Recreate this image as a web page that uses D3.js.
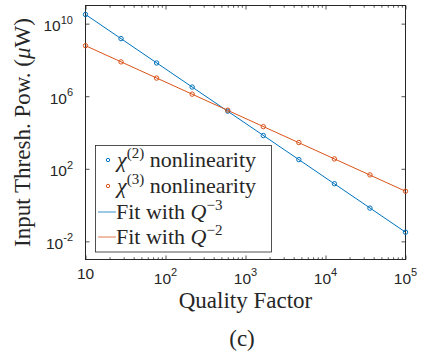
<!DOCTYPE html>
<html>
<head>
<meta charset="utf-8">
<script src="https://cdn.jsdelivr.net/npm/d3@7/dist/d3.min.js"></script>
<style>
  body { margin: 0; background: #fff; }
  text { fill: #262626; }
</style>
</head>
<body>
<svg id="chart" width="424" height="356"></svg>
<script>
// data
var qualityFactor = [10, 27.8, 77.4, 215.4, 599.5, 1668, 4642, 12915, 35938, 100000];
var chi2Power = [3.2e10, 1.5e9, 6.8e7, 3.2e6, 1.5e5, 6.8e3, 3.2e2, 1.5e1, 6.8e-1, 3.2e-2];
var chi3Power = [6.1e8, 7.8e7, 1.0e7, 1.3e6, 1.7e5, 2.1e4, 2.8e3, 3.5e2, 4.6e1, 5.8e0];
var fitQ = [10, 100000];
var fitQ3 = [3.2e10, 3.2e-2];   // Q^-3 fit
var fitQ2 = [6.1e8, 5.8e0];     // Q^-2 fit
var xTicks = [1e1, 1e2, 1e3, 1e4, 1e5];
var xTickExp = ["", "2", "3", "4", "5"];
var yTicks = [1e-2, 1e2, 1e6, 1e10];
var yTickExp = ["-2", "2", "6", "10"];
var legendNames = ["2", "3"];

var blue = "#0072BD", orange = "#D95319", axisCol = "#262626";

var svg = d3.select("#chart");
// plot box (avoid the name "top", it is window.top)
var pL = 85.5, pR = 405.5, pT = 5.5, pB = 259.5;

var x = d3.scaleLog().domain([10, 1e5]).range([pL, pR]);
var y = d3.scaleLog().domain([1e-3, 1e11]).range([pB, pT]);

// minor x ticks 2..9 in each decade
var xMinor = [];
for (var d = 1; d < 5; d++)
  for (var m = 2; m < 10; m++) xMinor.push(m * Math.pow(10, d));

svg.append("defs").append("clipPath").attr("id", "clip")
  .append("rect").attr("x", pL).attr("y", pT)
  .attr("width", pR - pL).attr("height", pB - pT);

// ---- axes (ticks inside, box on)
function styleAxis(g) {
  g.select(".domain").remove();
  g.selectAll("line").attr("stroke", axisCol).attr("stroke-width", 0.8);
  g.selectAll("text").remove();
}
svg.append("g").attr("transform", "translate(0," + pB + ")")
  .call(d3.axisBottom(x).tickValues(xTicks).tickSize(-4)).call(styleAxis);
svg.append("g").attr("transform", "translate(0," + pB + ")")
  .call(d3.axisBottom(x).tickValues(xMinor).tickSize(-2.2)).call(styleAxis);
svg.append("g").attr("transform", "translate(0," + pT + ")")
  .call(d3.axisTop(x).tickValues(xTicks).tickSize(-4)).call(styleAxis);
svg.append("g").attr("transform", "translate(0," + pT + ")")
  .call(d3.axisTop(x).tickValues(xMinor).tickSize(-2.2)).call(styleAxis);
svg.append("g").attr("transform", "translate(" + pL + ",0)")
  .call(d3.axisLeft(y).tickValues(yTicks).tickSize(-4)).call(styleAxis);
svg.append("g").attr("transform", "translate(" + pR + ",0)")
  .call(d3.axisRight(y).tickValues(yTicks).tickSize(-4)).call(styleAxis);

svg.append("rect").attr("x", pL).attr("y", pT)
  .attr("width", pR - pL).attr("height", pB - pT)
  .attr("fill", "none").attr("stroke", axisCol).attr("stroke-width", 1);

// tick labels
var tickFont = "'Liberation Sans', Arial, sans-serif";
xTicks.forEach(function (v, i) {
  var t = svg.append("text").attr("x", x(v)).attr("text-anchor", "middle")
    .style("font-family", tickFont).style("font-size", "15.5px");
  if (xTickExp[i] === "") {
    t.attr("y", 279).text("10");
  } else {
    t.attr("y", 284);
    t.append("tspan").text("10");
    t.append("tspan").attr("dy", -8).style("font-size", "11px").text(xTickExp[i]);
  }
});
yTicks.forEach(function (v, i) {
  var t = svg.append("text").attr("x", 73).attr("y", y(v) + 7.5)
    .attr("text-anchor", "end")
    .style("font-family", tickFont).style("font-size", "15.5px");
  t.append("tspan").text("10");
  t.append("tspan").attr("dy", -7.5).style("font-size", "11px").text(yTickExp[i]);
});

// ---- fit lines and data
var line = d3.line().x(function (d) { return x(d[0]); }).y(function (d) { return y(d[1]); });
var plot = svg.append("g").attr("clip-path", "url(#clip)");

plot.append("path").datum(d3.zip(fitQ, fitQ3)).attr("d", line)
  .attr("fill", "none").attr("stroke", blue).attr("stroke-width", 1);
plot.append("path").datum(d3.zip(fitQ, fitQ2)).attr("d", line)
  .attr("fill", "none").attr("stroke", orange).attr("stroke-width", 1);

[[chi2Power, blue], [chi3Power, orange]].forEach(function (s) {
  svg.append("g").selectAll("circle").data(d3.zip(qualityFactor, s[0])).enter()
    .append("circle")
    .attr("cx", function (d) { return x(d[0]); })
    .attr("cy", function (d) { return y(d[1]); })
    .attr("r", 2.2).attr("fill", "none").attr("stroke", s[1]).attr("stroke-width", 1);
});

// ---- axis labels
var serif = "'Liberation Serif', 'Times New Roman', serif";
svg.append("text").attr("x", (pL + pR) / 2).attr("y", 308)
  .attr("text-anchor", "middle").style("font-family", serif).style("font-size", "23px")
  .text("Quality Factor");

var yl = svg.append("text").attr("transform", "translate(30," + ((pT + pB) / 2) + ") rotate(-90)")
  .attr("text-anchor", "middle").style("font-family", serif).style("font-size", "23px");
yl.append("tspan").text("Input Thresh. Pow. (");
yl.append("tspan").style("font-style", "italic").text("\u03BC");
yl.append("tspan").text("W)");

svg.append("text").attr("x", 242).attr("y", 346)
  .attr("text-anchor", "middle").style("font-family", serif).style("font-size", "23px")
  .text("(c)");

// ---- legend
var lg = svg.append("g");
lg.append("rect").attr("x", 95.5).attr("y", 145.5).attr("width", 176).attr("height", 106.5)
  .attr("fill", "#fff").attr("stroke", axisCol).attr("stroke-width", 0.8);

var rowY = [160, 186, 212, 237];
[blue, orange].forEach(function (c, i) {
  lg.append("circle").attr("cx", 108).attr("cy", rowY[i]).attr("r", 1.7)
    .attr("fill", "none").attr("stroke", c).attr("stroke-width", 1);
  var t = lg.append("text").attr("x", 117).attr("y", rowY[i] + 7)
    .style("font-family", serif).style("font-size", "22px");
  t.append("tspan").style("font-style", "italic").text("\u03C7");
  t.append("tspan").attr("dy", -9).style("font-size", "15px").text("(" + legendNames[i] + ")");
  t.append("tspan").attr("dy", 9).text(" nonlinearity");
});
[[blue, "\u22123"], [orange, "\u22122"]].forEach(function (s, j) {
  var ry = rowY[j + 2];
  lg.append("line").attr("x1", 98).attr("x2", 116).attr("y1", ry).attr("y2", ry)
    .attr("stroke", s[0]).attr("stroke-opacity", 0.65).attr("stroke-width", 1.2);
  var t = lg.append("text").attr("x", 116).attr("y", ry + 7)
    .style("font-family", serif).style("font-size", "22px");
  t.append("tspan").text("Fit with ");
  t.append("tspan").style("font-style", "italic").text("Q");
  t.append("tspan").attr("dy", -9).style("font-size", "15px").text(s[1]);
});
</script>
</body>
</html>
